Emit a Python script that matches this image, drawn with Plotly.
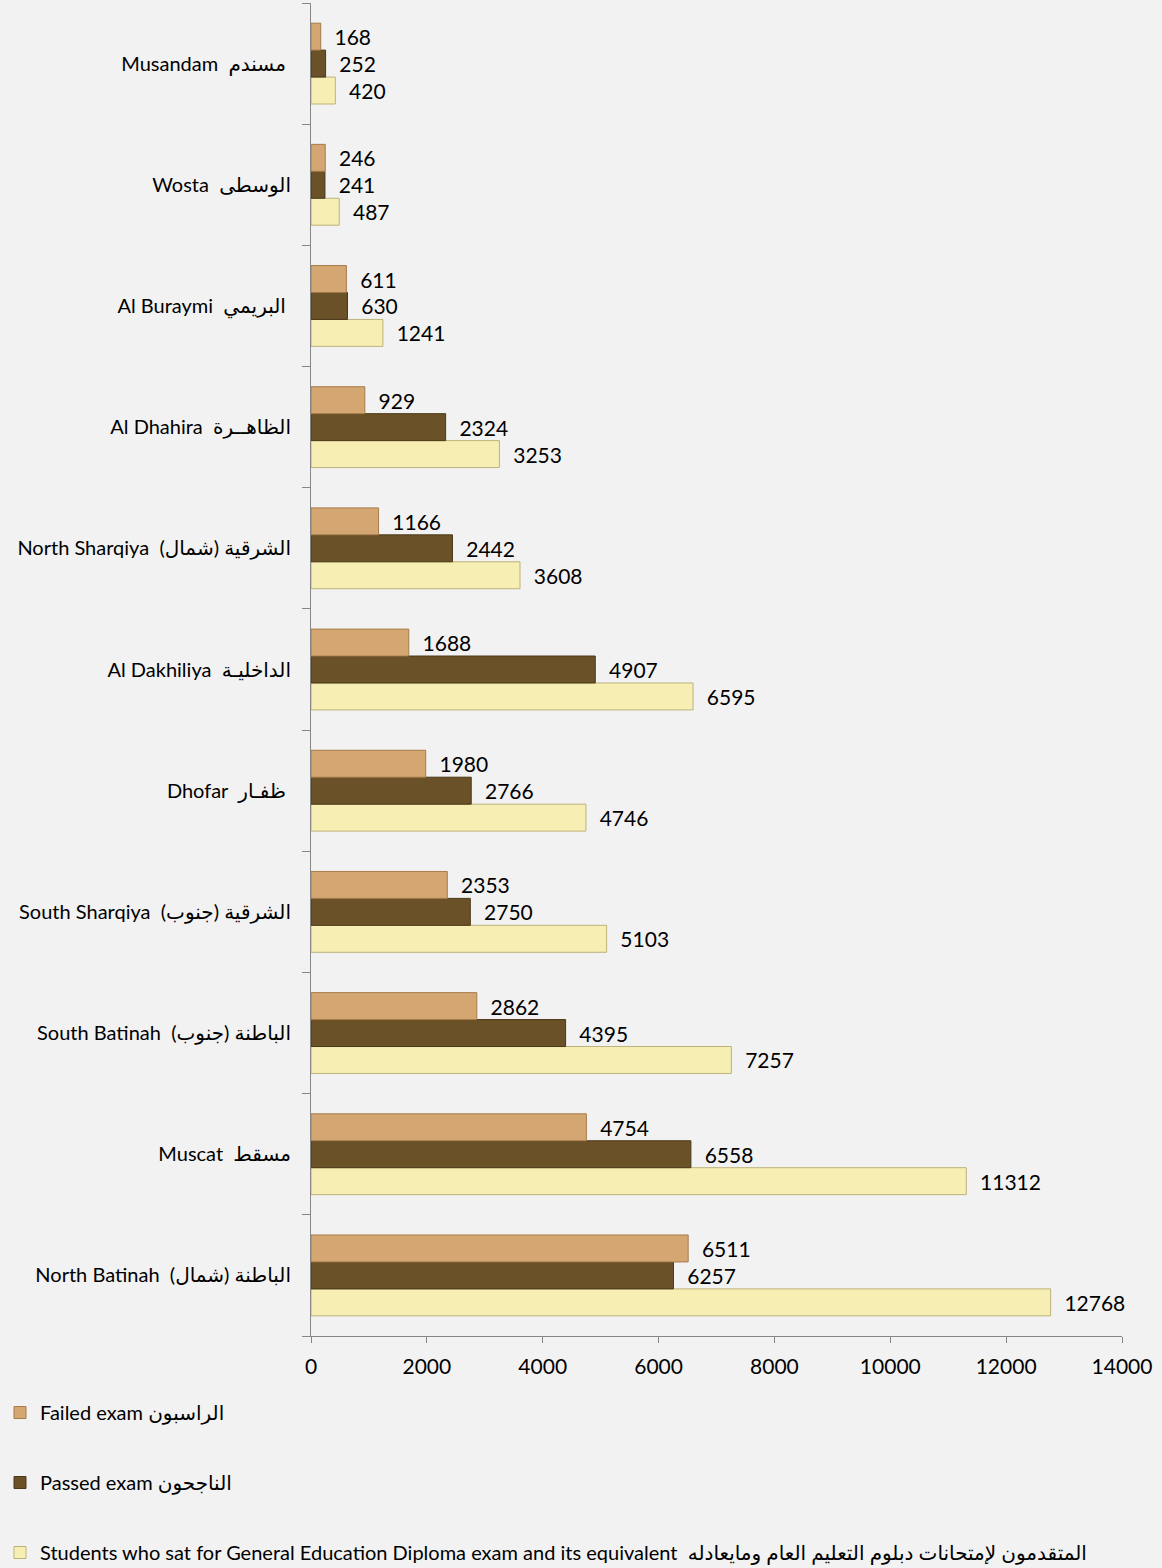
import plotly.graph_objects as go

categories = [
    "North Batinah  الباطنة (شمال)",
    "Muscat  مسقط",
    "South Batinah  الباطنة (جنوب)",
    "South Sharqiya  الشرقية (جنوب)",
    "Dhofar  ظفـار\u00a0",
    "Al Dakhiliya  الداخليـة",
    "North Sharqiya  الشرقية (شمال)",
    "Al Dhahira  الظاهــرة",
    "Al Buraymi  البريمي\u00a0",
    "Wosta  الوسطى",
    "Musandam  مسندم\u00a0",
]

students_sat = [12768, 11312, 7257, 5103, 4746, 6595, 3608, 3253, 1241, 487, 420]
passed = [6257, 6558, 4395, 2750, 2766, 4907, 2442, 2324, 630, 241, 252]
failed = [6511, 4754, 2862, 2353, 1980, 1688, 1166, 929, 611, 246, 168]

series_names = [
    "Students who sat for General Education Diploma exam and its equivalent  المتقدمون لإمتحانات دبلوم التعليم العام ومايعادله",
    "Passed exam الناجحون",
    "Failed exam الراسبون",
]
series_values = [students_sat, passed, failed]
legend_ranks = [3, 2, 1]
fill_colors = ["#F6EEB2", "#6B5128", "#D4A672"]
edge_colors = ["#BDB27A", "#4A3818", "#A67C4A"]

FONT = "Lato, 'Open Sans', 'DejaVu Sans', sans-serif"

fig = go.Figure()
for name, vals, rank, fc, ec in zip(series_names, series_values, legend_ranks, fill_colors, edge_colors):
    fig.add_trace(go.Bar(
        y=categories,
        x=vals,
        orientation="h",
        name=name,
        legendgroup=name,
        legendrank=rank,
        marker=dict(color=fc, line=dict(color=ec, width=1)),
        text=vals,
        texttemplate="\u00a0\u00a0%{x:d}",
        textposition="outside",
        textfont=dict(size=21, color="#000000", family=FONT),
        constraintext="none",
        cliponaxis=False,
    ))

fig.update_layout(
    width=1162,
    height=1568,
    barmode="group",
    bargap=0.333,
    bargroupgap=0,
    paper_bgcolor="#F2F2F2",
    plot_bgcolor="#F2F2F2",
    font=dict(family=FONT, size=20, color="#000000"),
    margin=dict(l=311, r=40, t=3, b=232, autoexpand=False),
    showlegend=True,
    legend=dict(
        xref="container", yref="container",
        x=0.0, y=1 - 1393 / 1568,
        xanchor="left", yanchor="top",
        traceorder="grouped",
        tracegroupgap=41,
        font=dict(size=20, family=FONT),
        bgcolor="rgba(0,0,0,0)",
    ),
    xaxis=dict(
        range=[0, 14000],
        dtick=2000,
        tickformat="d",
        automargin=False,
        showgrid=False,
        zeroline=False,
        showline=True,
        linecolor="#868686",
        linewidth=1,
        ticks="outside",
        ticklen=6,
        tickcolor="#868686",
        ticklabelstandoff=6,
        tickfont=dict(size=21),
    ),
    yaxis=dict(
        type="category",
        categoryorder="array",
        categoryarray=categories,
        automargin=False,
        showgrid=False,
        zeroline=False,
        showline=True,
        linecolor="#868686",
        linewidth=1,
        ticks="outside",
        tickson="boundaries",
        ticklen=8,
        tickcolor="#868686",
        ticklabelstandoff=15,
        tickfont=dict(size=20),
    ),
)

fig.write_html(
    "out.html",
    config={"displayModeBar": False},
    post_script="document.body.style.margin='0';",
)
